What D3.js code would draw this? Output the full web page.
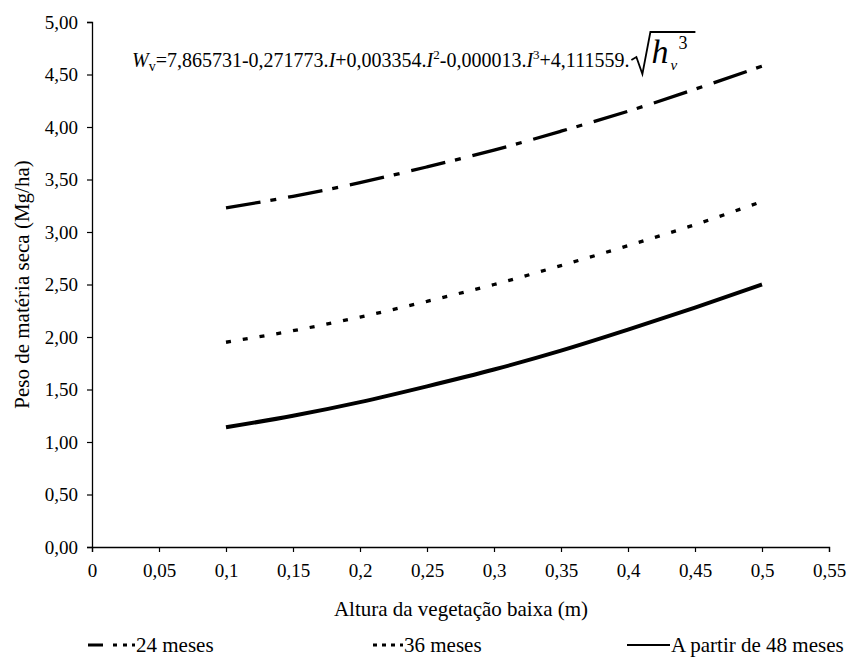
<!DOCTYPE html>
<html>
<head>
<meta charset="utf-8">
<script src="https://cdn.jsdelivr.net/npm/d3@7"></script>
<style>
  body { margin: 0; background: #fff; }
  svg text { font-family: "Liberation Serif", "DejaVu Serif", "Times New Roman", serif; fill: #000; }
</style>
</head>
<body>
<svg id="chart"></svg>
<script>
// values
const heights = [0.1, 0.15, 0.2, 0.25, 0.3, 0.35, 0.4, 0.45, 0.5];
const meses24 = [3.23, 3.34, 3.47, 3.62, 3.78, 3.96, 4.15, 4.36, 4.58];
const meses36 = [1.95, 2.06, 2.19, 2.34, 2.50, 2.68, 2.87, 3.07, 3.29];
const meses48 = [1.14, 1.25, 1.38, 1.53, 1.69, 1.87, 2.07, 2.28, 2.50];
const seriesNames = ["24 meses", "36 meses", "A partir de 48 meses"];
const xTicks = [0, 0.05, 0.1, 0.15, 0.2, 0.25, 0.3, 0.35, 0.4, 0.45, 0.5, 0.55];
const yTicks = [0, 0.5, 1, 1.5, 2, 2.5, 3, 3.5, 4, 4.5, 5];

const width = 855, height = 661;
const margin = {top: 22, right: 26, bottom: 114, left: 92};
const innerW = width - margin.left - margin.right;
const innerH = height - margin.top - margin.bottom;
const serif = '"Liberation Serif", "DejaVu Serif", serif';

const fmt = v => String(v).replace('.', ',');
const fmtY = v => v.toFixed(2).replace('.', ',');

const svg = d3.select('#chart')
    .attr('width', width)
    .attr('height', height);

const chart = svg.append('g')
    .attr('transform', `translate(${margin.left},${margin.top})`);

const xScale = d3.scaleLinear().domain([0, 0.55]).range([0, innerW]);
const yScale = d3.scaleLinear().domain([0, 5]).range([innerH, 0]);

// axes
const xAxisG = chart.append('g')
    .attr('transform', `translate(0,${innerH})`)
    .call(d3.axisBottom(xScale).tickValues(xTicks).tickFormat(fmt).tickSize(5).tickPadding(12));
const yAxisG = chart.append('g')
    .call(d3.axisLeft(yScale).tickValues(yTicks).tickFormat(fmtY).tickSize(5).tickPadding(9));

[xAxisG, yAxisG].forEach(g => {
  g.attr('font-family', serif).attr('font-size', 19);
  g.select('.domain').attr('stroke', '#000').attr('stroke-width', 1.3);
  g.selectAll('.tick line').attr('stroke', '#000').attr('stroke-width', 1.2);
  g.selectAll('.tick text').attr('fill', '#000');
});

// series
const series = [
  {name: seriesNames[0], values: meses24, dash: '35,10,6,12', width: 3.3},
  {name: seriesNames[1], values: meses36, dash: '5,12', width: 3.3},
  {name: seriesNames[2], values: meses48, dash: null, width: 4}
];

const line = d3.line()
    .x((d, i) => xScale(heights[i]))
    .y(d => yScale(d))
    .curve(d3.curveMonotoneX);

chart.selectAll('.serie')
  .data(series)
  .join('path')
  .attr('class', 'serie')
  .attr('d', d => line(d.values))
  .attr('fill', 'none')
  .attr('stroke', '#000')
  .attr('stroke-width', d => d.width)
  .attr('stroke-dasharray', d => d.dash);

// equation
const eq = svg.append('text')
    .attr('x', 132)
    .attr('y', 67)
    .style('font-size', '20px');
eq.append('tspan').style('font-style', 'italic').text('W');
eq.append('tspan').attr('dy', 4).style('font-size', '14px').text('v');
eq.append('tspan').attr('dy', -4).text('=7,865731-0,271773.');
eq.append('tspan').style('font-style', 'italic').text('I');
eq.append('tspan').text('+0,003354.');
eq.append('tspan').style('font-style', 'italic').text('I');
eq.append('tspan').attr('dy', -8).style('font-size', '13px').text('2');
eq.append('tspan').attr('dy', 8).text('-0,000013.');
eq.append('tspan').style('font-style', 'italic').text('I');
eq.append('tspan').attr('dy', -8).style('font-size', '13px').text('3');
eq.append('tspan').attr('dy', 8).text('+4,111559.');

// radical sign for sqrt(h_v^3), placed after the equation text
const ex = 132 + eq.node().getComputedTextLength() + 2;
svg.append('path')
    .attr('d', `M${ex},60 L${ex + 5},57 L${ex + 11},74 L${ex + 19},32 L${ex + 64},32`)
    .attr('fill', 'none')
    .attr('stroke', '#000')
    .attr('stroke-width', 1.8);
svg.append('text')
    .attr('x', ex + 20)
    .attr('y', 63)
    .style('font-size', '34px')
    .style('font-style', 'italic')
    .text('h');
svg.append('text')
    .attr('x', ex + 39)
    .attr('y', 70)
    .style('font-size', '15px')
    .style('font-style', 'italic')
    .text('v');
svg.append('text')
    .attr('x', ex + 47)
    .attr('y', 49)
    .style('font-size', '18px')
    .text('3');

// axis titles
svg.append('text')
    .attr('x', 461)
    .attr('y', 616)
    .attr('text-anchor', 'middle')
    .style('font-size', '21px')
    .text('Altura da vegetação baixa (m)');

svg.append('text')
    .attr('transform', `translate(29,${margin.top + yScale(2.5)}) rotate(-90)`)
    .attr('text-anchor', 'middle')
    .style('font-size', '21px')
    .text('Peso de matéria seca (Mg/ha)');

// legend
const legendItems = [
  {name: seriesNames[0], x1: 88, x2: 135, dash: '15,10,4,6,4,5,3', w: 3},
  {name: seriesNames[1], x1: 373, x2: 403, dash: '4,5', w: 3},
  {name: seriesNames[2], x1: 627, x2: 670, dash: null, w: 2}
];
const legend = svg.append('g').attr('class', 'legend');
legend.selectAll('line')
  .data(legendItems)
  .join('line')
  .attr('x1', d => d.x1)
  .attr('x2', d => d.x2)
  .attr('y1', 645)
  .attr('y2', 645)
  .attr('stroke', '#000')
  .attr('stroke-width', d => d.w)
  .attr('stroke-dasharray', d => d.dash);
legend.selectAll('text')
  .data(legendItems)
  .join('text')
  .attr('x', d => d.x2 + 1)
  .attr('y', 652)
  .style('font-size', '21px')
  .text(d => d.name);
</script>
</body>
</html>
